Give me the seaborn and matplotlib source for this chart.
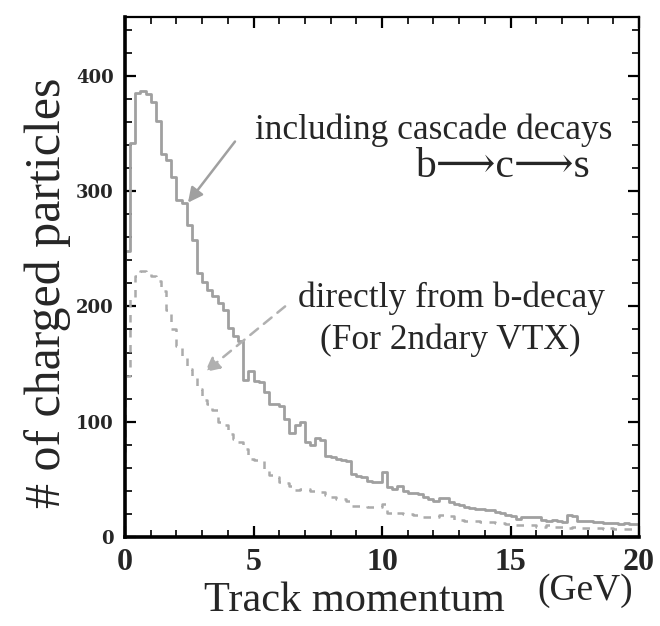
import numpy as np
import pandas as pd
import matplotlib
matplotlib.use("Agg")
import matplotlib.pyplot as plt
from matplotlib.ticker import MultipleLocator
import seaborn as sns

# Histogram binning: 0.2 GeV bins; the first bin is the underflow just below 0
bin_edges = [round(0.2 * i - 0.2, 2) for i in range(102)]
bin_centers = [round(0.2 * i - 0.1, 2) for i in range(101)]

# Charged particles, including cascade decays b -> c -> s
cascade_counts = [
    120,
    248, 342, 385, 387, 384, 377, 361, 332, 327, 312,
    292, 290, 271, 258, 229, 221, 214, 209, 203, 197,
    181, 174, 170, 136, 144, 135, 134, 126, 115, 115,
    114, 102, 90, 97, 100, 82, 80, 86, 84, 70,
    69, 68, 67, 66, 55, 53, 52, 49, 48, 48,
    56, 43, 42, 44, 40, 38, 38, 37, 35, 33,
    31, 34, 34, 30, 29, 28, 26, 25, 24, 24,
    23, 23, 22, 21, 19, 18, 16, 17, 17, 17,
    17, 15, 14, 15, 14, 13, 19, 18, 14, 14,
    14, 13, 13, 12, 12, 12, 11, 12, 11, 11,
]

# Charged particles directly from the b decay (secondary vertex)
direct_counts = [
    65,
    140, 208, 226, 231, 230, 226, 222, 213, 197, 180,
    166, 157, 146, 139, 128, 119, 115, 110, 100, 97,
    89, 85, 82, 76, 68, 67, 66, 59, 54, 52,
    48, 47, 44, 41, 42, 42, 40, 39, 39, 36,
    35, 33, 33, 31, 27, 27, 27, 26, 26, 26,
    29, 21, 20, 21, 20, 20, 19, 19, 17, 17,
    17, 19, 19, 18, 15, 15, 14, 14, 14, 13,
    13, 13, 12, 12, 11, 11, 10, 10, 10, 10,
    9, 9, 10, 9, 9, 9, 8, 9, 8, 8,
    8, 8, 8, 7, 8, 7, 7, 7, 7, 7,
]

x_ticks = [0, 5, 10, 15, 20]
y_ticks = [0, 100, 200, 300, 400]

cascade_df = pd.DataFrame({"momentum": bin_centers, "count": cascade_counts})
direct_df = pd.DataFrame({"momentum": bin_centers, "count": direct_counts})

sns.set_style("ticks")
serif = ["Liberation Serif", "DejaVu Serif", "DejaVu Sans"]
plt.rcParams["font.family"] = serif

fig = plt.figure(figsize=(6.6, 6.26), dpi=100)
ax = fig.add_axes([125 / 660, 89 / 626, 514 / 660, 520 / 626])

line_grey = "#a0a0a0"
dash_grey = "#ababab"

sns.histplot(
    data=cascade_df, x="momentum", weights="count",
    bins=bin_edges, element="step", fill=False, color=line_grey,
    linewidth=2.0, ax=ax,
)
sns.histplot(
    data=direct_df, x="momentum", weights="count",
    bins=bin_edges, element="step", fill=False, color=dash_grey,
    linewidth=1.8, linestyle=(0, (3, 3)), ax=ax,
)

ax.set_xlim(0, 20)
ax.set_ylim(0, 451)
ax.set_xticks(x_ticks)
ax.set_yticks(y_ticks)
ax.xaxis.set_minor_locator(MultipleLocator(1))
ax.yaxis.set_minor_locator(MultipleLocator(20))
ax.tick_params(which="both", direction="in", top=True, right=True,
               color="black")
ax.tick_params(which="major", length=8, width=1.6)
ax.tick_params(which="minor", length=5, width=1.2)
ax.tick_params(axis="x", which="major", pad=8)
ax.tick_params(axis="y", which="major", pad=8)

for lbl in ax.get_xticklabels():
    lbl.set_fontsize(23)
    lbl.set_fontweight("bold")
    lbl.set_family(serif)
for lbl in ax.get_yticklabels():
    lbl.set_fontsize(13)
    lbl.set_fontweight("bold")
    lbl.set_family(["DejaVu Serif"])

for side in ["left", "bottom"]:
    ax.spines[side].set_linewidth(2.6)
for side in ["right", "top"]:
    ax.spines[side].set_linewidth(1.6)
for side in ax.spines:
    ax.spines[side].set_color("black")

ax.set_xlabel("")
ax.set_ylabel("# of charged particles", fontsize=36, family=serif)
ax.yaxis.set_label_coords(-0.105, 0.47)

ax.text(0.447, -0.122, "Track momentum", transform=ax.transAxes,
        fontsize=30.5, family=serif, ha="center", va="center")
ax.text(0.895, -0.104, "(GeV)", transform=ax.transAxes,
        fontsize=27, family=serif, ha="center", va="center")

ax.text(5.06, 353, "including cascade decays", fontsize=25.5, family=serif,
        ha="left", va="center")
ax.text(11.3, 321, "b\u27f6c\u27f6s", fontsize=30, family=serif,
        ha="left", va="center")
ax.text(6.73, 207, "directly from b-decay", fontsize=25.5, family=serif,
        ha="left", va="center")
ax.text(7.59, 171, "(For 2ndary VTX)", fontsize=25.5, family=serif,
        ha="left", va="center")

ax.annotate("", xy=(2.45, 290), xytext=(4.28, 343),
            arrowprops=dict(arrowstyle="-|>", color="#a0a0a0", lw=1.8,
                            mutation_scale=22, shrinkA=0, shrinkB=0))
ax.annotate("", xy=(3.11, 143), xytext=(6.23, 200),
            arrowprops=dict(arrowstyle="-|>", color="#b0b0b0", lw=1.8,
                            linestyle=(0, (4, 3)), mutation_scale=22,
                            shrinkA=0, shrinkB=0))

fig.savefig("out.png", dpi=100, facecolor="white")
